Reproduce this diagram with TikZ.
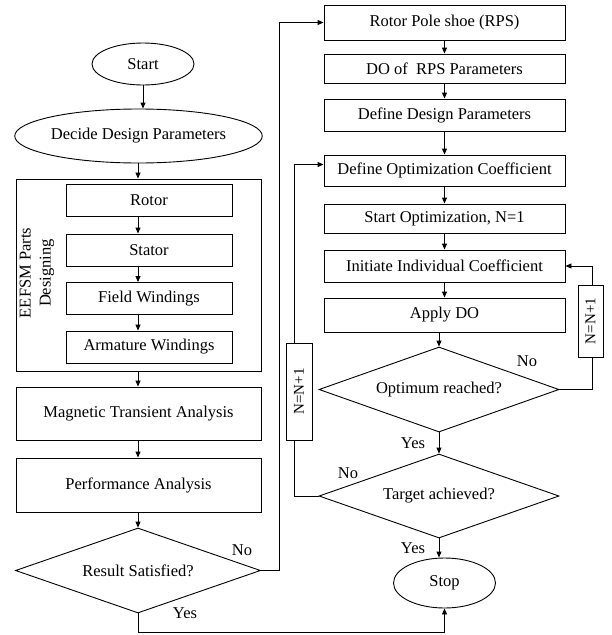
\documentclass[tikz,border=0pt]{standalone}
\usepackage{fontspec}
\setmainfont{Liberation Serif}
\usetikzlibrary{shapes.geometric,arrows.meta,calc}
\begin{document}
\begin{tikzpicture}[x=1pt,y=-1pt,
  line width=0.9pt,
  every node/.style={font=\fontsize{16.5}{20}\selectfont},
  box/.style={draw,rectangle,inner sep=0pt,line width=0.9pt},
  oval/.style={draw,ellipse,inner sep=0pt,line width=0.9pt},
  dec/.style={draw,diamond,aspect=3,inner sep=0pt,line width=0.9pt},
  lbl/.style={inner sep=0pt},
  arr/.style={-{Triangle[length=6pt,width=5pt]}}]
\useasboundingbox (0,0) rectangle (611,635);
% left column
\node[oval,minimum width=102pt,minimum height=42pt] (start) at (143,64) {Start};
\node[oval,minimum width=247pt,minimum height=54pt] (decide) at (138.5,136) {Decide Design Parameters};
\node[box,minimum width=245pt,minimum height=192pt] (parts) at (138.5,275) {};
\node[lbl,rotate=90,align=center] (partslbl) at (37,273) {EEFSM Parts\\Designing};
\node[box,minimum width=166pt,minimum height=32pt] (rotor) at (149,200) {Rotor};
\node[box,minimum width=166pt,minimum height=32pt] (stator) at (149,250) {Stator};
\node[box,minimum width=166pt,minimum height=32pt] (field) at (149,298.5) {Field Windings};
\node[box,minimum width=166pt,minimum height=32pt] (arm) at (149,347) {Armature Windings};
\node[box,minimum width=245pt,minimum height=53pt] (mta) at (138.5,413.5) {Magnetic Transient Analysis};
\node[box,minimum width=245pt,minimum height=54pt] (perf) at (138.5,485) {Performance Analysis};
\node[dec,minimum width=245pt,minimum height=85pt] (res) at (138,570.5) {Result Satisfied?};
\node[lbl] (resno) at (242,550) {No};
\node[lbl] (resyes) at (185,613) {Yes};
\coordinate (lx) at (138,0);
% right column
\node[box,minimum width=241pt,minimum height=35pt] (rps) at (444.5,22.5) {Rotor Pole shoe (RPS)};
\node[box,minimum width=241pt,minimum height=29pt] (dorps) at (444.5,68.5) {DO of~ RPS Parameters};
\node[box,minimum width=241pt,minimum height=32pt] (ddp) at (444.5,115) {Define Design Parameters};
\node[box,minimum width=241pt,minimum height=31pt] (doc) at (444.5,170.5) {Define Optimization Coefficient};
\node[box,minimum width=241pt,minimum height=29pt] (so) at (444.5,218.5) {Start Optimization, N=1};
\node[box,minimum width=241pt,minimum height=32pt] (iic) at (444.5,266) {Initiate Individual Coefficient};
\node[box,minimum width=241pt,minimum height=34pt] (ado) at (444.5,315) {Apply DO};
\node[dec,minimum width=240pt,minimum height=85pt] (opt) at (439,389.5) {Optimum reached?};
\node[lbl] (optno) at (527,361) {No};
\node[lbl] (optyes) at (413,443) {Yes};
\node[dec,minimum width=240pt,minimum height=84pt] (tgt) at (439,496) {Target achieved?};
\node[lbl] (tgtno) at (348,473) {No};
\node[lbl] (tgtyes) at (413,548) {Yes};
\node[oval,minimum width=102pt,minimum height=50pt] (stop) at (444.5,583) {Stop};
\node[box,minimum width=72pt,minimum height=25pt,rotate=90,font=\fontsize{15}{18}\selectfont] (nr) at (590.5,321) {N=N+1};
\node[box,minimum width=97pt,minimum height=26pt,rotate=90,font=\fontsize{15}{18}\selectfont] (nl) at (299,391.5) {N=N+1};
\coordinate (rx) at (444.5,0);
\coordinate (fx) at (294,0);
% left connectors
\draw[arr] (start.south) -- (start.south |- decide.north);
\draw[arr] (decide.south -| lx) -- (parts.north -| lx);
\draw[arr] (rotor.south -| lx) -- (stator.north -| lx);
\draw[arr] (stator.south -| lx) -- (field.north -| lx);
\draw[arr] (field.south -| lx) -- (arm.north -| lx);
\draw[arr] (parts.south -| lx) -- (mta.north -| lx);
\draw[arr] (mta.south -| lx) -- (perf.north -| lx);
\draw[arr] (perf.south -| lx) -- (res.north);
\draw[arr] (res.east) -- ++(18,0) |- (rps.west);
\draw[arr] (res.south) -- ++(0,19) -| (stop.south);
% right connectors
\draw[arr] (rps.south) -- (dorps.north);
\draw[arr] (dorps.south) -- (ddp.north);
\draw[arr] (ddp.south) -- (doc.north);
\draw[arr] (doc.south) -- (so.north);
\draw[arr] (so.south) -- (iic.north);
\draw[arr] (iic.south) -- (ado.north);
\draw[arr] (ado.south -| opt.north) -- (opt.north);
\draw[arr] (opt.south) -- (tgt.north);
\draw[arr] (tgt.south) -- (tgt.south |- stop.north);
\draw (opt.east) -| ([xshift=1.5pt]nr.west);
\draw[arr] ([xshift=1.5pt]nr.east) |- (iic.east);
\draw (tgt.west) -| (nl.west -| fx);
\draw[arr] (nl.east -| fx) |- ([yshift=6pt]doc.west);
\end{tikzpicture}
\end{document}
